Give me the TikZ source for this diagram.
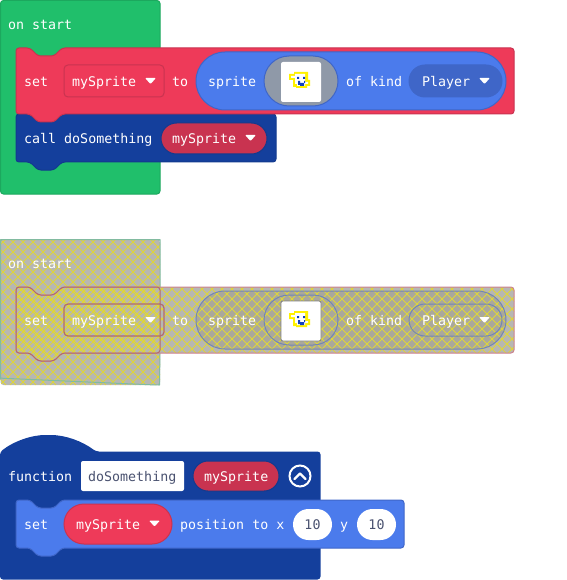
\documentclass[tikz,border=0pt]{standalone}
\usepackage{fontspec}
\setmonofont{DejaVu Sans Mono}
\definecolor{cgreen}{HTML}{20BF6B}
\definecolor{cgreenD}{HTML}{1CA85E}
\definecolor{cred}{HTML}{EE3A59}
\definecolor{credD}{HTML}{C93350}
\definecolor{cblue}{HTML}{4B7BEC}
\definecolor{cblueD}{HTML}{3F66C8}
\definecolor{cnavy}{HTML}{143F9C}
\definecolor{cnavyD}{HTML}{123A8E}
\definecolor{cgray}{HTML}{8F99A8}
\definecolor{hbg}{HTML}{B7B7B3}
\definecolor{hfield}{HTML}{AAA89C}
\definecolor{hline}{HTML}{DDD53A}
\definecolor{hgreen}{HTML}{82BBA0}
\definecolor{hred}{HTML}{CB8290}
\definecolor{hredD}{HTML}{B26A70}
\definecolor{hblue}{HTML}{7286B4}
\definecolor{numtxt}{HTML}{4A5270}
\definecolor{spy}{HTML}{FFF200}
\definecolor{spb}{HTML}{1040C0}
\tikzset{
  lbl/.style={font=\ttfamily\fontsize{13.3}{16}\selectfont,text=white,inner sep=0pt,anchor=base west},
  dlbl/.style={lbl,text=numtxt},
  clbl/.style={dlbl,anchor=base},
  blk/.style={rounded corners=3,line width=1pt},
  hatchlines/.style={hline,line width=0.8pt},
  drop/.style={fill=white,rounded corners=1pt},
}
% statement block outline with top notch and bottom tab
\def\stmt#1#2#3#4{({#1},{#2}) -- ({#1+14},{#2}) -- ({#1+22},{#2+8}) -- ({#1+38},{#2+8}) -- ({#1+46},{#2}) -- ({#3},{#2}) -- ({#3},{#4}) -- ({#1+46},{#4}) -- ({#1+38},{#4+8}) -- ({#1+22},{#4+8}) -- ({#1+14},{#4}) -- ({#1},{#4}) -- cycle}
\def\pill#1#2#3#4#5{({#1},{#2}) rectangle[rounded corners=#5] ({#3},{#4})}
\def\dropdown#1#2{\fill[drop] ({#1},{#2-3}) -- ({#1+11},{#2-3}) -- ({#1+5.5},{#2+3}) -- cycle;}
\def\spritepic#1#2{%
  \begin{scope}[shift={(#1,#2)}]
    \fill[spy] (5,0) rectangle (19,2) (0,2) rectangle (6,8) (16,0) rectangle (19,12) (4,8) rectangle (8,15) (16,8) rectangle (21,14) (7,12) rectangle (18,16);
    \fill[white] (6,2) rectangle (16,12) (2,4) rectangle (6,6) (8,12) rectangle (16,14) (16,10) rectangle (19,12);
    \fill[spb] (8,5) rectangle (10,7) (14,5) rectangle (16,7) (9,9) rectangle (11,13) (11,11) rectangle (15,14) (15,9) rectangle (16,11);
  \end{scope}}
\begin{document}
\begin{tikzpicture}[x=1pt,y=-1pt]
\useasboundingbox (0,0) rectangle (566,580);
% ---------- enabled on start ----------
\draw[blk,fill=cgreen,draw=cgreenD] (0.5,0.5) rectangle (160,194);
\draw[blk,fill=cnavy,draw=cnavyD] \stmt{16}{114}{276}{162};
\draw[blk,fill=cred,draw=credD] \stmt{16}{48}{514}{114};
\node[lbl] (t1) at (8,29.5) {on start};
\node[lbl] (t2) at (24,86.5) {set};
\draw[fill=cred,draw=credD,line width=1pt,rounded corners=4] (64,65) rectangle (164,97);
\node[lbl] (t3) at (72,86.5) {mySprite};
\dropdown{145}{81}
\node[lbl] (t4) at (172,86.5) {to};
\draw[fill=cblue,draw=cblueD,line width=1pt,rounded corners=29] (196,52) rectangle (506,110);
\node[lbl] (t5) at (208,86.5) {sprite};
\draw[fill=cgray,draw=cblueD,line width=1pt,rounded corners=25] (264,56) rectangle (338,106);
\fill[white,rounded corners=2] (281,62) rectangle (321,102);
\spritepic{289}{72}
\node[lbl] (t6) at (346,86.5) {of kind};
\draw[fill=cblueD,draw=cblueD,line width=1pt,rounded corners=16] (409,65) rectangle (502,97);
\node[lbl] (t7) at (422,86.5) {Player};
\dropdown{479}{81}
\node[lbl] (t8) at (24,143.5) {call doSomething};
\draw[fill=credD,draw=cnavyD,line width=1pt,rounded corners=15.5] (161,123) rectangle (267,154);
\node[lbl] (t9) at (172,143.5) {mySprite};
\dropdown{245}{138}
% ---------- disabled on start ----------
\fill[hbg,rounded corners=3] (0.5,239.5) rectangle (160,385);
\fill[hbg,rounded corners=3] \stmt{16}{287}{514}{353};
\fill[hfield,rounded corners=29] (196,291) rectangle (506,349);
\begin{scope}
  \clip[rounded corners=3] (0.5,239.5) rectangle (160,385);
  \foreach \c in {-160,-150,...,170} {
    \draw[hatchlines] (\c,239) -- (\c+146,385);
    \draw[hatchlines] (\c,385) -- (\c+146,239);
  }
\end{scope}
\begin{scope}
  \clip[rounded corners=3] \stmt{16}{287}{514}{353};
  \foreach \c in {-60,-50,...,520} {
    \draw[hatchlines] (\c,287) -- (\c+74,361);
    \draw[hatchlines] (\c,361) -- (\c+74,287);
  }
\end{scope}
\draw[blk,draw=hgreen] (160,287) -- (160,243) arc[start angle=0,end angle=-90,radius=3.5] -- (4,239.5) arc[start angle=-90,end angle=-180,radius=3.5] -- (0.5,381.5) arc[start angle=180,end angle=90,radius=-3.5] -- (156,385) arc[start angle=90,end angle=0,radius=3.5] -- (160,353);
\draw[blk,draw=hred] \stmt{16}{287}{514}{353};
\draw[blk,draw=hredD] \stmt{16}{287}{160}{353};
\node[lbl] (u1) at (8,268.5) {on start};
\node[lbl] (u2) at (24,325.5) {set};
\draw[draw=hredD,line width=1.2pt,rounded corners=4] (64,304) rectangle (164,336);
\node[lbl] (u3) at (72,325.5) {mySprite};
\dropdown{145}{320}
\node[lbl] (u4) at (172,325.5) {to};
\draw[draw=hblue,line width=1pt,rounded corners=29] (196,291) rectangle (506,349);
\node[lbl] (u5) at (208,325.5) {sprite};
\draw[draw=hblue,line width=1pt,rounded corners=25] (264,295) rectangle (338,345);
\fill[white,rounded corners=2] (281,301) rectangle (321,341);
\draw[hbg!70!black,line width=0.8pt,rounded corners=2] (281,301) rectangle (321,341);
\spritepic{289}{311}
\node[lbl] (u6) at (346,325.5) {of kind};
\draw[draw=hblue,line width=1pt,rounded corners=16] (409,304) rectangle (502,336);
\node[lbl] (u7) at (422,325.5) {Player};
\dropdown{479}{320}
% ---------- function ----------
\fill[cnavy,rounded corners=3] (0,452) .. controls (14,441) and (32,435) .. (48,435) .. controls (65,435) and (82,441) .. (96,451.5) -- (320.5,451.5) -- (320.5,579.5) -- (0,579.5) -- cycle;
\node[lbl] (f1) at (8,481) {function};
\fill[white,rounded corners=2] (81,461) rectangle (184,491);
\node[dlbl] (f2) at (88,481) {doSomething};
\draw[fill=credD,draw=cnavyD,line width=1pt,rounded corners=15] (193,461) rectangle (279,491);
\node[lbl] (f3) at (204,481) {mySprite};
\draw[white,line width=2pt] (300,476) circle[radius=10.5];
\draw[white,line width=2.2pt,line cap=round,line join=round] (294.5,479) -- (300,473.5) -- (305.5,479);
\draw[blk,fill=cblue,draw=cblueD] \stmt{16}{500}{404}{548};
\node[lbl] (f4) at (24,529) {set};
\draw[fill=cred,draw=credD,line width=1pt,rounded corners=20] (64,504) rectangle (172,544);
\node[lbl] (f5) at (76,529) {mySprite};
\dropdown{149}{523.5}
\node[lbl] (f6) at (180,529) {position to x};
\fill[white,rounded corners=15.5] (293,509) rectangle (332,540);
\node[clbl] (f7) at (312.5,529) {10};
\node[lbl] (f8) at (340,529) {y};
\fill[white,rounded corners=15.5] (357,509) rectangle (396,540);
\node[clbl] (f9) at (376.5,529) {10};
\end{tikzpicture}
\end{document}
